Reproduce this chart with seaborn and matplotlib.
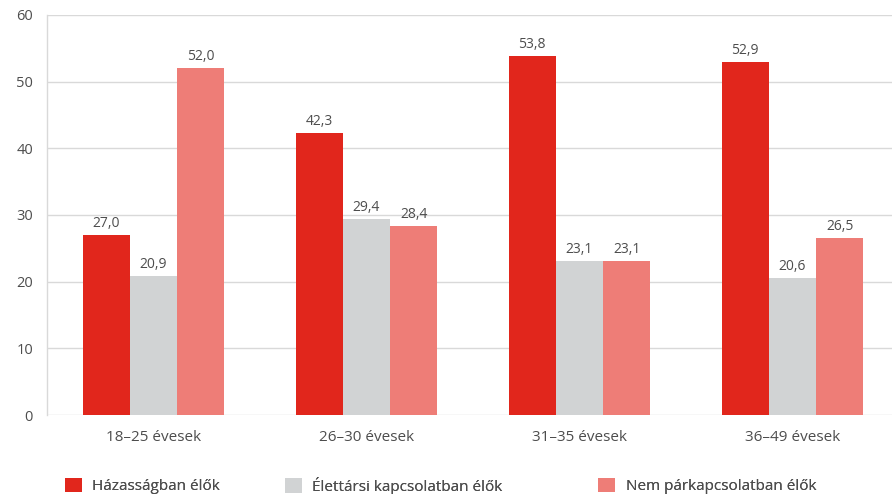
import pandas as pd
import matplotlib.pyplot as plt
import seaborn as sns
from matplotlib.patches import Patch

# data
categories = ['18–25 évesek', '26–30 évesek', '31–35 évesek', '36–49 évesek']
series = ['Házasságban élők', 'Élettársi kapcsolatban élők', 'Nem párkapcsolatban élők']
hazas = [27.0, 42.3, 53.8, 52.9]
elettars = [20.9, 29.4, 23.1, 20.6]
nem_par = [52.0, 28.4, 23.1, 26.5]
colors = ['#E1261C', '#D1D3D4', '#EE7D77']

df = pd.DataFrame({
    'kor': categories * 3,
    'ertek': hazas + elettars + nem_par,
    'csoport': [s for s in series for _ in categories],
})

sns.set_style('white')
plt.rcParams['font.family'] = ['Open Sans', 'DejaVu Sans']
txt = '#4D4D4D'
grid = '#D9D9D9'

fig = plt.figure(figsize=(8.92, 4.94), dpi=100)
ax = fig.add_axes([47 / 892, 1 - 415 / 494, 852 / 892, 400 / 494])

sns.barplot(data=df, x='kor', y='ertek', hue='csoport', palette=colors,
            width=0.665, saturation=1, gap=0, ax=ax, legend=False, zorder=3,
            linewidth=0, edgecolor='none')

for cont in ax.containers:
    ax.bar_label(cont, labels=[f'{v:.1f}'.replace('.', ',') for v in cont.datavalues],
                 padding=3, fontsize=10, color=txt)

ax.set_xlim(-0.5, 3.5)
ax.set_ylim(0, 60)
ax.set_yticks(range(0, 61, 10))
ax.yaxis.grid(True, color=grid, linewidth=1)
ax.set_axisbelow(True)
ax.set_xlabel('')
ax.set_ylabel('')

for side in ['top', 'right', 'bottom']:
    ax.spines[side].set_visible(False)
ax.spines['left'].set_color(grid)
ax.spines['left'].set_linewidth(1)

ax.tick_params(axis='y', length=7, color=grid, labelsize=10.5, labelcolor=txt, pad=3)
ax.tick_params(axis='x', which='major', length=0, labelsize=11, labelcolor=txt, pad=11)
ax.set_xticks([-0.5, 0.5, 1.5, 2.5], minor=True)
ax.tick_params(axis='x', which='minor', length=7, color=grid, width=1)

# legend items sit at uneven positions in the original, so place them one by one
leg_x = [65, 285, 598]
for c, lab, x in zip(colors, series, leg_x):
    lg = fig.legend([Patch(facecolor=c, edgecolor='none')], [lab], loc='center left',
                    bbox_to_anchor=(x / 892, 1 - 486 / 494), frameon=False,
                    fontsize=11, labelcolor=txt, handlelength=1.1, handleheight=1.1,
                    handletextpad=0.7, borderaxespad=0, borderpad=0)
    fig.add_artist(lg)

fig.savefig('out.png', dpi=100)
